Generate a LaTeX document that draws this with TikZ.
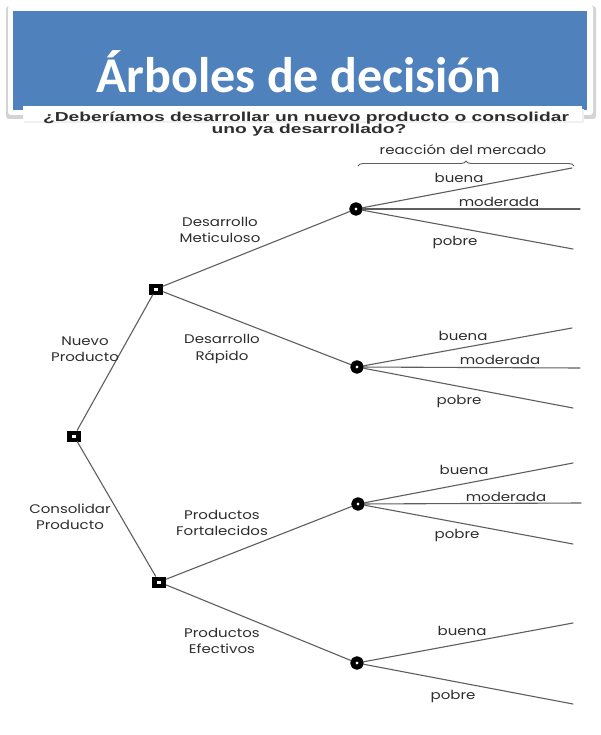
\documentclass[tikz,border=0pt]{standalone}
\usepackage{fontspec}
\setmainfont{Poppins}
\newfontfamily\treefont[FakeStretch=1.2]{Poppins}
\newfontfamily\titlefont{Carlito}
\newfontfamily\askfont[FakeStretch=1.48]{Liberation Sans}
\usetikzlibrary{positioning,decorations.pathreplacing}
\definecolor{arbBlue}{HTML}{4F81BD}
\definecolor{arbLine}{HTML}{5E5E5E}
\definecolor{arbInk}{HTML}{2E2E2E}
\definecolor{arbShadow}{HTML}{D4D4D4}

\begin{document}
\begin{tikzpicture}[x=1pt,y=-1pt,line cap=round,line join=round]
\useasboundingbox[fill=white] (0,0) rectangle (601,735);
\tikzset{edge/.style={draw=arbLine,line width=1.1pt},decision/.style={rectangle,fill=black,inner sep=0pt,minimum width=14pt,minimum height=11pt,path picture={\fill[white] ([xshift=-2pt,yshift=-1.5pt]path picture bounding box.center) rectangle ([xshift=2pt,yshift=1.5pt]path picture bounding box.center);}},chance/.style={circle,draw=black,fill=white,line width=5pt,inner sep=0pt,minimum size=8.5pt},lbl/.style={text=arbInk,font=\treefont\fontsize{12.5}{16.5}\selectfont,align=center,inner sep=0pt}}
% banner
\path[fill=arbShadow,rounded corners=3pt] (6,6) rectangle (596,119);
\path[fill=white,rounded corners=3pt] (8,5) rectangle (593,115);
\path[fill=arbBlue] (13,11) rectangle (587,110);
\path[fill=black!6] (24,109) rectangle (584,123);
\path[fill=white] (23,106) rectangle (582,121);
\node[anchor=base,text=white,font=\titlefont\bfseries\fontsize{50}{60}\selectfont] (title) at (299,93) {Árboles de decisión};
\node[anchor=base,text=arbInk,font=\askfont\bfseries\fontsize{13}{13}\selectfont,inner sep=0pt] (ask1) at (306,122) {¿Deberíamos desarrollar un nuevo producto o consolidar};
\node[anchor=base,text=arbInk,font=\askfont\bfseries\fontsize{13}{13}\selectfont,inner sep=0pt] (ask2) at (309,134) {uno ya desarrollado?};
% decision and chance nodes
\node[decision] (root) at (74,436) {};
\node[decision] (nuevo) at (156,289) {};
\node[decision] (consol) at (159,582) {};
\node[chance] (meti) at (356,209) {};
\node[chance] (rapi) at (357,367) {};
\node[chance] (fort) at (358,504) {};
\node[chance] (efec) at (357,663) {};
% outcome ends
\coordinate (m1) at (572,168); \coordinate (m2) at (580,209); \coordinate (m3) at (573,249);
\coordinate (r1) at (572,328); \coordinate (r2) at (580,368); \coordinate (r3) at (573,408);
\coordinate (f1) at (573,463); \coordinate (f2) at (581,503); \coordinate (f3) at (573,544);
\coordinate (e1) at (573,623); \coordinate (e3) at (573,704);
\draw[edge] (root) -- (nuevo); \draw[edge] (root) -- (consol);
\draw[edge] (nuevo) -- (meti); \draw[edge] (nuevo) -- (rapi);
\draw[edge] (consol) -- (fort); \draw[edge] (consol) -- (efec);
\foreach \c/\p in {meti/m,rapi/r,fort/f}{\draw[edge] (\c) -- (\p1); \draw[edge] (\c) -- (\p2); \draw[edge] (\c) -- (\p3);}
\draw[edge] (efec) -- (e1); \draw[edge] (efec) -- (e3);
% brace
\coordinate (braceL) at (358,166); \coordinate (braceR) at (574,166);
\draw[draw=arbLine,line width=0.9pt,decorate,decoration={brace,amplitude=5pt}] (braceL) -- (braceR);
\node[lbl] (mercado) at (463,150) {reacción del mercado};
% labels
\node[lbl] (lnuevo) at (85,349) {Nuevo\\Producto};
\node[lbl] (lconsol) at (70,517) {Consolidar\\Producto};
\node[lbl] (lmeti) at (220,230) {Desarrollo\\Meticuloso};
\node[lbl] (lrapi) at (222,349) {Desarrollo\\Rápido};
\node[lbl] (lfort) at (222,523) {Productos\\Fortalecidos};
\node[lbl] (lefec) at (222,641) {Productos\\Efectivos};
\node[lbl] (mb) at (459,178) {buena}; \node[lbl] (mm) at (499,202) {moderada}; \node[lbl] (mp) at (455,242) {pobre};
\node[lbl] (rb) at (463,336) {buena}; \node[lbl] (rm) at (500,360) {moderada}; \node[lbl] (rp) at (459,401) {pobre};
\node[lbl] (fb) at (464,470) {buena}; \node[lbl] (fm) at (506,497) {moderada}; \node[lbl] (fp) at (457,535) {pobre};
\node[lbl] (eb) at (462,631) {buena}; \node[lbl] (ep) at (453,696) {pobre};
\end{tikzpicture}
\end{document}
